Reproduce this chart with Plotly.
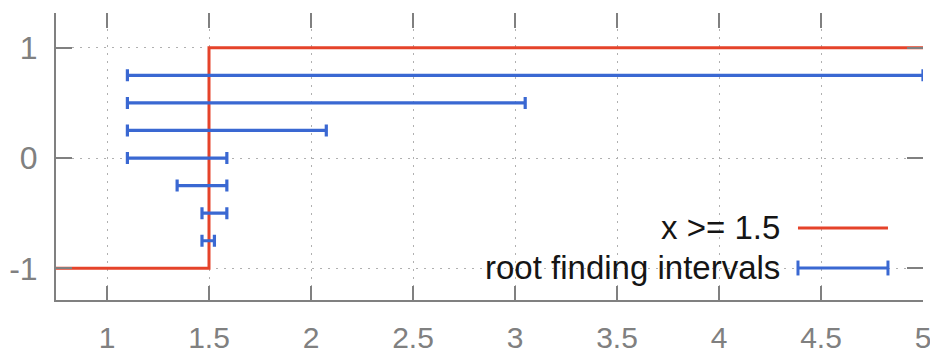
import plotly.graph_objects as go

# ---- data ----
step_x = [0.75, 1.5, 1.5, 5.0]
step_y = [-1, -1, 1, 1]

interval_lo = [1.1, 1.1, 1.1, 1.1, 1.34375, 1.465625, 1.465625]
interval_hi = [5.0, 3.05, 2.075, 1.5875, 1.5875, 1.5875, 1.5265625]
interval_y = [0.75, 0.5, 0.25, 0.0, -0.25, -0.5, -0.75]

x_ticks = [1, 1.5, 2, 2.5, 3, 3.5, 4, 4.5, 5]
x_tick_labels = ["1", "1.5", "2", "2.5", "3", "3.5", "4", "4.5", "5"]
y_ticks = [-1, 0, 1]
y_tick_labels = ["-1", "0", "1"]

legend_labels = ["x >= 1.5", "root finding intervals"]

RED = "#e5432a"
BLUE = "#3a68d2"
AXIS = "#808080"
FONT = "Liberation Sans"
XR = [0.75, 5.0]
YR = [-1.287, 1.315]

mid = [(a + b) / 2 for a, b in zip(interval_lo, interval_hi)]
half = [(b - a) / 2 for a, b in zip(interval_lo, interval_hi)]

fig = go.Figure()
fig.add_trace(go.Scatter(x=step_x, y=step_y, mode="lines",
                         line=dict(color=RED, width=3), showlegend=False,
                         cliponaxis=False))
fig.add_trace(go.Scatter(x=mid, y=interval_y, mode="markers",
                         marker=dict(size=1, color=BLUE, opacity=0),
                         error_x=dict(type="data", array=half, symmetric=True,
                                      color=BLUE, thickness=3.2, width=6),
                         showlegend=False))
# invisible trace for mirrored tick axes
fig.add_trace(go.Scatter(x=[None], y=[None], xaxis="x2", yaxis="y2",
                         showlegend=False, hoverinfo="skip"))

xtickfont = dict(family=FONT, size=30, color="#808080")
ytickfont = dict(family=FONT, size=32, color="#808080")
# page body has an 8px default margin, so the figure is made 8px smaller
fig.update_layout(
    width=930, height=348,
    margin=dict(l=48, r=15, t=5, b=56),
    paper_bgcolor="white", plot_bgcolor="white",
    showlegend=False,
    xaxis=dict(range=XR, tickvals=x_ticks, ticktext=x_tick_labels,
               ticks="inside", ticklen=14, tickwidth=2, tickcolor=AXIS,
               showline=True, linecolor=AXIS, linewidth=2,
               showgrid=True, gridcolor="#b0b0b0", gridwidth=1, griddash="2px,6px",
               zeroline=False, tickfont=xtickfont, ticklabelstandoff=10,
               automargin=False),
    yaxis=dict(range=YR, tickvals=y_ticks, ticktext=y_tick_labels,
               ticks="inside", ticklen=16, tickwidth=2, tickcolor=AXIS,
               showline=True, linecolor=AXIS, linewidth=2,
               showgrid=True, gridcolor="#b0b0b0", gridwidth=1, griddash="2px,6px",
               zeroline=False, tickfont=ytickfont, ticklabelstandoff=10,
               automargin=False),
    xaxis2=dict(range=XR, overlaying="x", side="top", anchor="y2",
                tickvals=x_ticks, ticks="inside", ticklen=15, tickwidth=2,
                tickcolor=AXIS, showticklabels=False, showline=False,
                showgrid=False, zeroline=False, automargin=False),
    yaxis2=dict(range=YR, overlaying="y", side="right", anchor="x2",
                tickvals=y_ticks, ticks="inside", ticklen=16, tickwidth=2,
                tickcolor=AXIS, showticklabels=False, showline=False,
                showgrid=False, zeroline=False, automargin=False),
)

# custom legend (text to the left of the sample, gnuplot style)
leg_text_x = 0.8374
leg_x0, leg_x1 = 0.8558, 0.9596
leg_rows = [0.2509, 0.1115]
colors = [RED, BLUE]
for lab, yy, c in zip(legend_labels, leg_rows, colors):
    fig.add_annotation(x=leg_text_x, y=yy, xref="paper", yref="paper",
                       text=lab, showarrow=False, xanchor="right", yanchor="middle",
                       font=dict(family=FONT, size=33, color="#151515"))
    fig.add_shape(type="line", xref="paper", yref="paper",
                  x0=leg_x0, x1=leg_x1, y0=yy, y1=yy,
                  line=dict(color=c, width=3))
# caps for the error-bar legend sample
cap = 0.026
for xx in (leg_x0, leg_x1):
    fig.add_shape(type="line", xref="paper", yref="paper",
                  x0=xx, x1=xx, y0=leg_rows[1] - cap, y1=leg_rows[1] + cap,
                  line=dict(color=BLUE, width=3))

fig.write_html("out.html")
